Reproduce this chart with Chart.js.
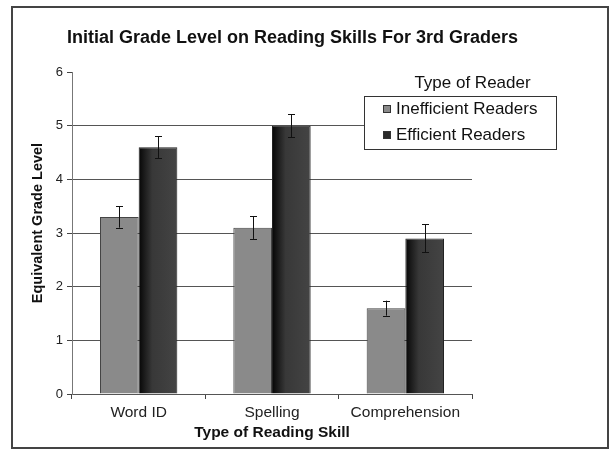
<!DOCTYPE html>
<html>
<head>
<meta charset="utf-8">
<script src="https://cdn.jsdelivr.net/npm/chart.js@4/dist/chart.umd.min.js"></script>
<style>
html,body{margin:0;padding:0;background:#fff;}
canvas{display:block;}
</style>
</head>
<body>
<canvas id="c" width="610" height="450"></canvas>
<script>
const categories = ['Word ID', 'Spelling', 'Comprehension'];
const seriesNames = ['Inefficient Readers', 'Efficient Readers'];
const inefficientValues = [3.3, 3.1, 1.6];
const efficientValues = [4.6, 5.0, 2.9];
const inefficientErrors = [0.2, 0.21, 0.14];
const efficientErrors = [0.2, 0.21, 0.26];
const yTicks = [0, 1, 2, 3, 4, 5, 6];
const chartTitle = 'Initial Grade Level on Reading Skills For 3rd Graders';
const xTitle = 'Type of Reading Skill';
const yTitle = 'Equivalent Grade Level';
const legendTitle = 'Type of Reader';

const FONT = "'Liberation Sans', Arial, sans-serif";
const swatchColors = ['#8a8a8a', '#2a2a2a'];

const framePlugin = {
  id: 'frame',
  beforeDraw(chart) {
    const ctx = chart.ctx;
    ctx.save();
    ctx.fillStyle = '#fff';
    ctx.fillRect(0, 0, chart.width, chart.height);
    ctx.strokeStyle = '#444';
    ctx.lineWidth = 2;
    ctx.strokeRect(12, 7, 596, 441);
    ctx.restore();
  }
};

const gradientPlugin = {
  id: 'barGradient',
  beforeDatasetsDraw(chart) {
    const ctx = chart.ctx;
    const meta = chart.getDatasetMeta(1);
    meta.data.forEach(el => {
      const l = el.x - el.width / 2, r = el.x + el.width / 2;
      const g = ctx.createLinearGradient(l, 0, r, 0);
      g.addColorStop(0, '#060606');
      g.addColorStop(0.35, '#383838');
      g.addColorStop(1, '#444444');
      el.options.backgroundColor = g;
    });
  }
};

const errorBarPlugin = {
  id: 'errorBars',
  afterDatasetsDraw(chart) {
    const ctx = chart.ctx;
    const y = chart.scales.y;
    ctx.save();
    ctx.strokeStyle = '#111';
    ctx.lineWidth = 1;
    chart.data.datasets.forEach((ds, di) => {
      const meta = chart.getDatasetMeta(di);
      meta.data.forEach((el, i) => {
        const v = ds.data[i], e = ds.errors[i];
        const top = y.getPixelForValue(v + e), bot = y.getPixelForValue(v - e);
        const x = Math.round(el.x) + 0.5;
        ctx.beginPath();
        ctx.moveTo(x, top); ctx.lineTo(x, bot);
        ctx.moveTo(x - 3.5, Math.round(top) + 0.5); ctx.lineTo(x + 3.5, Math.round(top) + 0.5);
        ctx.moveTo(x - 3.5, Math.round(bot) + 0.5); ctx.lineTo(x + 3.5, Math.round(bot) + 0.5);
        ctx.stroke();
      });
    });
    ctx.restore();
  }
};

const yTitlePlugin = {
  id: 'yTitle',
  afterDraw(chart) {
    const ctx = chart.ctx;
    const a = chart.chartArea;
    ctx.save();
    ctx.translate(38, (a.top + a.bottom) / 2 - 10);
    ctx.rotate(-Math.PI / 2);
    ctx.font = 'bold 14.5px ' + FONT;
    ctx.fillStyle = '#111';
    ctx.textAlign = 'center';
    ctx.textBaseline = 'middle';
    ctx.fillText(yTitle, 0, 0);
    ctx.restore();
  }
};

const legendPlugin = {
  id: 'customLegend',
  afterDraw(chart) {
    const ctx = chart.ctx;
    ctx.save();
    ctx.font = '17px ' + FONT;
    ctx.fillStyle = '#111';
    ctx.textAlign = 'center';
    ctx.textBaseline = 'middle';
    ctx.fillText(legendTitle, 472.5, 83);
    ctx.fillStyle = '#fff';
    ctx.fillRect(364.5, 96.5, 192, 53);
    ctx.strokeStyle = '#333';
    ctx.lineWidth = 1;
    ctx.strokeRect(364.5, 96.5, 192, 53);
    ctx.textAlign = 'left';
    chart.data.datasets.forEach((ds, i) => {
      const cy = 109 + i * 26;
      ctx.fillStyle = swatchColors[i];
      ctx.fillRect(383, cy - 4, 8, 8);
      ctx.strokeStyle = '#333';
      ctx.strokeRect(383.5, cy - 3.5, 7, 7);
      ctx.fillStyle = '#111';
      ctx.fillText(ds.label, 396, cy);
    });
    ctx.restore();
  }
};

new Chart(document.getElementById('c'), {
  type: 'bar',
  data: {
    labels: categories,
    datasets: [
      {
        label: seriesNames[0],
        data: inefficientValues,
        errors: inefficientErrors,
        backgroundColor: '#8a8a8a',
        borderColor: '#444',
        borderWidth: 1,
        categoryPercentage: 0.58,
        barPercentage: 1.0
      },
      {
        label: seriesNames[1],
        data: efficientValues,
        errors: efficientErrors,
        backgroundColor: () => '#2a2a2a',
        borderColor: '#222',
        borderWidth: 1,
        categoryPercentage: 0.58,
        barPercentage: 1.0
      }
    ]
  },
  options: {
    responsive: false,
    animation: false,
    devicePixelRatio: 1,
    layout: { padding: { left: 14, right: 39, top: 8, bottom: 0 } },
    plugins: {
      legend: { display: false },
      tooltip: { enabled: false },
      title: {
        display: true,
        text: chartTitle,
        color: '#111',
        font: { family: FONT, size: 18, weight: 'bold' },
        padding: { top: 19.5, bottom: 23 }
      }
    },
    scales: {
      x: {
        grid: { drawOnChartArea: false, drawTicks: true, tickLength: 5, tickColor: '#444', offset: true },
        border: { color: '#555', width: 1 },
        ticks: { color: '#222', font: { family: FONT, size: 15.5 }, padding: 4 },
        title: { display: true, text: xTitle, color: '#111', font: { family: FONT, size: 15.5, weight: 'bold' }, padding: { top: 0, bottom: 8 } },
        afterFit(s) { s.height = 56; }
      },
      y: {
        min: 0, max: 6,
        afterBuildTicks(s) { s.ticks = yTicks.map(v => ({ value: v })); },
        grid: {
          color: c => (c.tick && c.tick.value === 6) ? 'rgba(0,0,0,0)' : '#555',
          tickColor: '#444', tickLength: 5, lineWidth: 1
        },
        border: { color: '#777', width: 1 },
        ticks: { color: '#222', font: { family: FONT, size: 13 }, padding: 4 },
        title: { display: false },
        afterFit(s) { s.width = 58; }
      },
      y2: {
        position: 'right',
        display: true,
        grid: { display: false, drawTicks: false },
        border: { display: false },
        ticks: { display: false },
        afterFit(s) { s.width = 99; }
      }
    }
  },
  plugins: [framePlugin, gradientPlugin, errorBarPlugin, yTitlePlugin, legendPlugin]
});
</script>
</body>
</html>
